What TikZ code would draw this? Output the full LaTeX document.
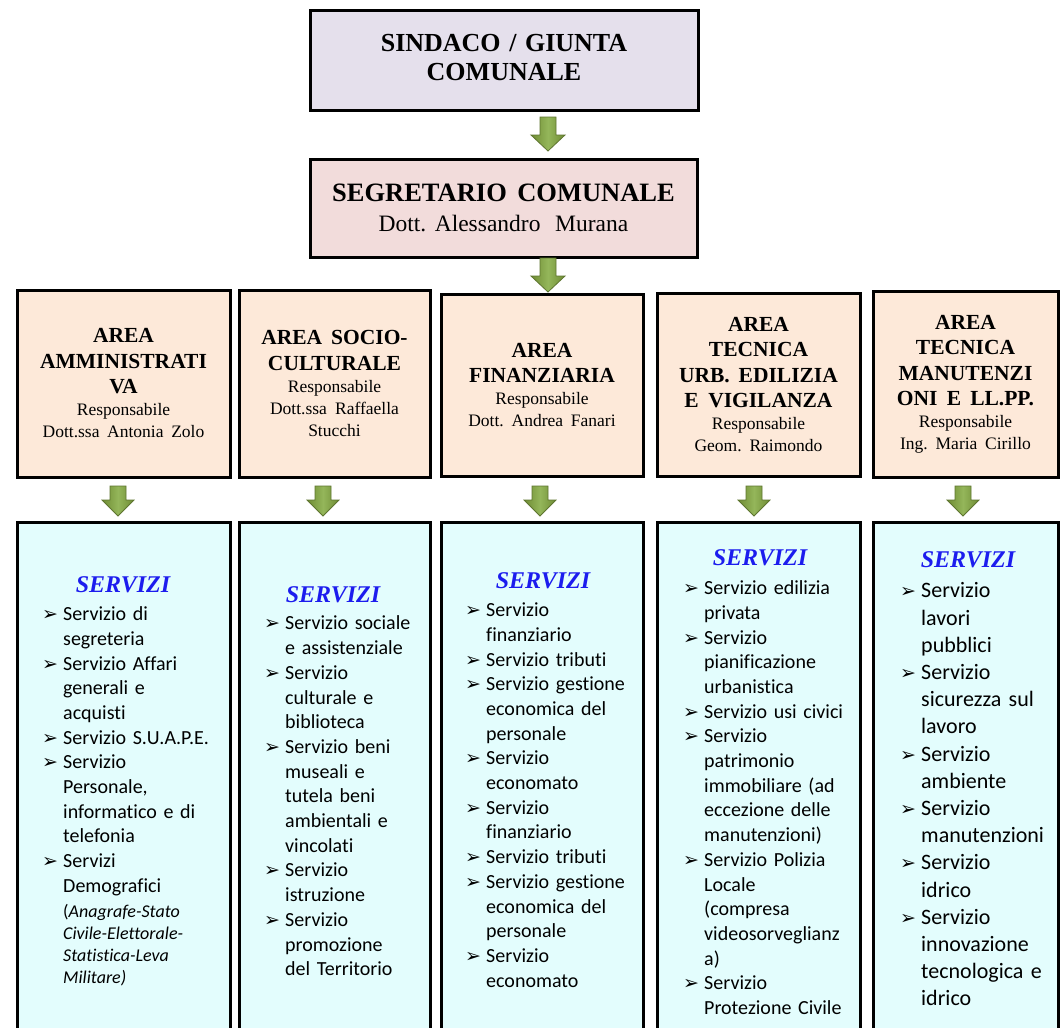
\documentclass[tikz,border=0pt]{standalone}
\usepackage{fontspec}
\setmainfont{Liberation Serif}
\newfontfamily\calfont[Ligatures=NoCommon]{Carlito}
\newfontfamily\dvfont{DejaVu Sans}
\definecolor{topfill}{HTML}{E5E0EC}
\definecolor{secfill}{HTML}{F2DCDB}
\definecolor{areafill}{HTML}{FDE9D9}
\definecolor{servfill}{HTML}{E3FDFD}
\definecolor{arrowfill}{HTML}{6F8C34}
\definecolor{arrowlight}{HTML}{94B65A}
\definecolor{arrowline}{HTML}{5E7530}
\definecolor{servblue}{RGB}{28,28,238}
\newcommand\wsp{\spaceskip=.33em plus .1em minus .03em\xspaceskip=.45em\relax}
\newcommand\wspb{\spaceskip=.3em plus .1em minus .03em\xspaceskip=.36em\relax}
\newcommand\bul{\makebox[21pt][l]{\dvfont\fontsize{19}{19}\selectfont ➢}}
\newcommand\itm[1]{\par\noindent\hangindent=21pt\hangafter=1\strut\bul{\let\\\newline #1}\par}
\newcommand\ttl[1]{{\fontsize{21.5}{25.5}\selectfont\bfseries\wsp #1\par}}
\newcommand\sub[1]{{\fontsize{17.5}{22}\selectfont\wsp #1\par}}
\tikzset{
  box/.style={draw=black, line width=3pt, inner sep=0pt, outer sep=0pt},
  areabox/.style={box, fill=areafill, align=center},
  servbox/.style={box, fill=servfill},
  servhead/.style={inner sep=0pt, text=servblue, font=\fontsize{24}{24}\selectfont\bfseries\itshape},
  servlist/.style={inner sep=0pt, font=\calfont\fontsize{20}{24.7}\selectfont},
  servlistb/.style={inner sep=0pt, font=\calfont\fontsize{22}{27.2}\selectfont},
  pics/garrow/.style n args={3}{code={
    \shadedraw[left color=arrowfill, right color=arrowfill, middle color=arrowlight, draw=arrowline, line width=0.8pt]
      (-8,0) -- (8,0) -- (8,#1) -- (#3,#1) -- (0,#2) -- (-#3,#1) -- (-8,#1) -- cycle;}}
}
\begin{document}
\begin{tikzpicture}[x=1pt, y=-1pt]
\clip (0,0) rectangle (1061,1028);
\fill[white] (0,0) rectangle (1061,1028);

% top boxes
\node[box, fill=topfill, minimum width=388pt, minimum height=100pt] (top) at (504,60) {};
\node[inner sep=0pt, align=center, font=\fontsize{26}{29}\selectfont\bfseries\wsp] (toptext) at (504,58) {SINDACO / GIUNTA\\COMUNALE};
\node[box, fill=secfill, minimum width=387pt, minimum height=98pt, text width=380pt, align=center] (seg) at (503.5,208)
  {{\fontsize{26.5}{30}\selectfont\bfseries\wspb SEGRETARIO COMUNALE\par}{\fontsize{23.5}{30}\selectfont\wspb Dott. Alessandro Murana\par}};

% arrows top
\pic at (548,117) {garrow={18}{34}{17}};
\pic at (548,258) {garrow={18}{34}{17}};

% area boxes
\node[areabox, minimum width=213pt, minimum height=187pt, text width=205pt] (a1) at (123.5,383.5)
  {\ttl{AREA\\AMMINISTRATI\\VA}\sub{Responsabile\\Dott.ssa Antonia Zolo}};
\node[areabox, minimum width=191pt, minimum height=187pt, text width=182pt] (a2) at (334.5,383.5)
  {\ttl{AREA SOCIO-\\CULTURALE}\sub{Responsabile\\Dott.ssa Raffaella\\Stucchi}};
\node[areabox, minimum width=202pt, minimum height=182pt, text width=192pt] (a3) at (542,385)
  {\ttl{AREA\\FINANZIARIA}\sub{Responsabile\\Dott. Andrea Fanari}};
\node[areabox, minimum width=203pt, minimum height=183pt, text width=192pt] (a4) at (758.5,384.5)
  {\ttl{AREA\\TECNICA\\URB. EDILIZIA\\E VIGILANZA}\sub{Responsabile\\Geom. Raimondo}};
\node[areabox, minimum width=185pt, minimum height=186pt, text width=176pt] (a5) at (965.5,384.5)
  {\ttl{AREA\\TECNICA\\MANUTENZI\\ONI E LL.PP.}\sub{Responsabile\\Ing. Maria Cirillo}};

% arrows to services
\pic at (118,486) {garrow={14}{30}{16}};
\pic at (323,486) {garrow={14}{30}{16}};
\pic at (540,486) {garrow={14}{30}{16}};
\pic at (754,486) {garrow={14}{30}{16}};
\pic at (963,486) {garrow={14}{30}{16}};

% service boxes
\node[servbox, anchor=north west, minimum width=213pt, minimum height=530pt] (s1) at (17,522) {};
\node[servbox, anchor=north west, minimum width=191pt, minimum height=530pt] (s2) at (239,522) {};
\node[servbox, anchor=north west, minimum width=202pt, minimum height=530pt] (s3) at (441,522) {};
\node[servbox, anchor=north west, minimum width=203pt, minimum height=530pt] (s4) at (657,522) {};
\node[servbox, anchor=north west, minimum width=185pt, minimum height=530pt] (s5) at (873,522) {};

\node[servhead, anchor=base] (h1) at (123,592) {SERVIZI};
\node[servhead, anchor=base] (h2) at (333,602) {SERVIZI};
\node[servhead, anchor=base] (h3) at (543,588) {SERVIZI};
\node[servhead, anchor=base] (h4) at (760,565) {SERVIZI};
\node[servhead, anchor=base] (h5) at (968,567) {SERVIZI};

\node[servlist, anchor=north west, text width=186pt] (l1) at (42,595.7) {%
\itm{Servizio di\\segreteria}
\itm{Servizio Affari\\generali e\\acquisti}
\itm{Servizio S.U.A.P.E.}
\itm{Servizio\\Personale,\\informatico e di\\telefonia}
\itm{Servizi\\Demografici}
\vspace{3pt}
{\fontsize{18}{22}\selectfont\leftskip=21pt\noindent(\textit{Anagrafe-Stato\newline Civile-Elettorale-\newline Statistica-Leva\newline Militare)}\par}};

\node[servlist, anchor=north west, text width=166pt] (l2) at (264,605) {%
\itm{Servizio sociale\\e assistenziale}
\itm{Servizio\\culturale e\\biblioteca}
\itm{Servizio beni\\museali e\\tutela beni\\ambientali e\\vincolati}
\itm{Servizio\\istruzione}
\itm{Servizio\\promozione\\del Territorio}};

\node[servlist, anchor=north west, text width=176pt] (l3) at (465,591.7) {%
\itm{Servizio\\finanziario}
\itm{Servizio tributi}
\itm{Servizio gestione\\economica del\\personale}
\itm{Servizio\\economato}
\itm{Servizio\\finanziario}
\itm{Servizio tributi}
\itm{Servizio gestione\\economica del\\personale}
\itm{Servizio\\economato}};

\node[servlist, anchor=north west, text width=178pt] (l4) at (683,569.7) {%
\itm{Servizio edilizia\\privata}
\itm{Servizio\\pianificazione\\urbanistica}
\itm{Servizio usi civici}
\itm{Servizio\\patrimonio\\immobiliare (ad\\eccezione delle\\manutenzioni)}
\itm{Servizio Polizia\\Locale\\(compresa\\videosorveglianz\\a)}
\itm{Servizio\\Protezione Civile}};

\node[servlistb, anchor=north west, text width=160pt] (l5) at (900,570.5) {%
\itm{Servizio\\lavori\\pubblici}
\itm{Servizio\\sicurezza sul\\lavoro}
\itm{Servizio\\ambiente}
\itm{Servizio\\manutenzioni}
\itm{Servizio\\idrico}
\itm{Servizio\\innovazione\\tecnologica e\\idrico}};
\end{tikzpicture}
\end{document}
